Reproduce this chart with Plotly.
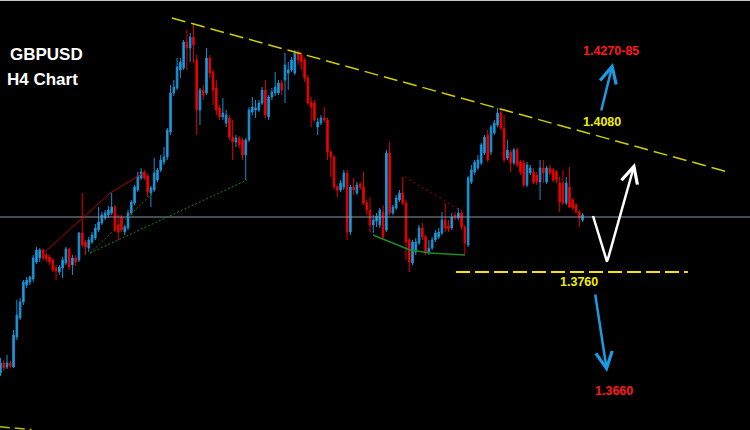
import plotly.graph_objects as go

# GBPUSD H4 candles (oldest -> newest)
open_ = [1.35075, 1.35325, 1.35225, 1.35325, 1.35225, 1.35975, 1.3645, 1.3685, 1.37275, 1.3735,
         1.37425, 1.3785, 1.3795, 1.3815, 1.38025, 1.37975, 1.3790, 1.3770, 1.3760, 1.3770,
         1.37825, 1.38175, 1.37775, 1.3795, 1.3790, 1.38575, 1.3835, 1.3820, 1.3835, 1.3845,
         1.3865, 1.38825, 1.3895, 1.39025, 1.39075, 1.39225, 1.38775, 1.38975, 1.3860, 1.3870,
         1.39075, 1.39325, 1.3965, 1.3995, 1.4010, 1.4000, 1.39575, 1.3965, 1.3990, 1.4015,
         1.4035, 1.40475, 1.4110, 1.42075, 1.4220, 1.4265, 1.4270, 1.4335, 1.4320, 1.43475,
         1.4290, 1.4165, 1.4215, 1.42075, 1.4295, 1.4260, 1.4220, 1.4170, 1.41475, 1.41325,
         1.4145, 1.40975, 1.4085, 1.4095, 1.4090, 1.40525, 1.4090, 1.4160, 1.4165, 1.4165,
         1.41825, 1.4215, 1.41475, 1.41975, 1.42075, 1.42075, 1.42325, 1.4240, 1.42575, 1.4265,
         1.42575, 1.43075, 1.43025, 1.4290, 1.4245, 1.4185, 1.41825, 1.41225, 1.41325, 1.4145,
         1.4140, 1.4060, 1.40475, 1.39725, 1.3965, 1.39725, 1.40075, 1.3860, 1.39725, 1.39575,
         1.3980, 1.39725, 1.39325, 1.3915, 1.38775, 1.38875, 1.38775, 1.3910, 1.3865, 1.40575,
         1.39075, 1.3920, 1.3940, 1.39575, 1.39325, 1.3840, 1.37825, 1.3810, 1.38325, 1.3870,
         1.38475, 1.3810, 1.3820, 1.3840, 1.38475, 1.38575, 1.3890, 1.3875, 1.3870, 1.39025,
         1.3895, 1.39075, 1.38725, 1.38275, 1.3985, 1.4010, 1.4020, 1.40325, 1.40575, 1.41025,
         1.4060, 1.41075, 1.41275, 1.41575, 1.4120, 1.4045, 1.4060, 1.40325, 1.4065, 1.4035,
         1.40325, 1.39775, 1.40075, 1.4010, 1.40025, 1.3985, 1.4020, 1.3985, 1.4020, 1.4015,
         1.4010, 1.39825, 1.39825, 1.39325, 1.39725, 1.3940, 1.39275, 1.3910, 1.3890]
high = [1.3545, 1.3540, 1.35525, 1.35375, 1.3615, 1.3690, 1.3695, 1.3740, 1.37475, 1.3750,
        1.38025, 1.38225, 1.3820, 1.38175, 1.38075, 1.38025, 1.3795, 1.37775, 1.37775, 1.37975,
        1.38225, 1.3820, 1.38025, 1.38025, 1.3860, 1.39575, 1.3840, 1.38475, 1.3860, 1.3880,
        1.39225, 1.3910, 1.3915, 1.3925, 1.39575, 1.39275, 1.39025, 1.39025, 1.38775, 1.3915,
        1.3940, 1.39775, 1.4010, 1.4020, 1.4015, 1.4005, 1.3975, 1.4045, 1.4020, 1.40525,
        1.40725, 1.4120, 1.42275, 1.4240, 1.4295, 1.4295, 1.4340, 1.4365, 1.43575, 1.43825,
        1.43025, 1.4220, 1.42275, 1.4320, 1.43025, 1.4265, 1.4240, 1.41775, 1.4195, 1.4165,
        1.41525, 1.4140, 1.41025, 1.4100, 1.4095, 1.4095, 1.41725, 1.41975, 1.4190, 1.4190,
        1.42225, 1.4240, 1.42025, 1.4220, 1.4260, 1.4240, 1.4240, 1.43075, 1.4285, 1.42975,
        1.4315, 1.4315, 1.4310, 1.4295, 1.42525, 1.41975, 1.4190, 1.4145, 1.41525, 1.41725,
        1.4145, 1.4065, 1.40525, 1.39775, 1.3990, 1.4015, 1.4015, 1.39775, 1.3995, 1.3985,
        1.3985, 1.4010, 1.3940, 1.39475, 1.39025, 1.39075, 1.3920, 1.39275, 1.4065, 1.4085,
        1.39275, 1.39525, 1.3965, 1.39975, 1.3940, 1.3845, 1.3840, 1.3845, 1.38775, 1.38825,
        1.38525, 1.3840, 1.38475, 1.3865, 1.3870, 1.3910, 1.39325, 1.3890, 1.39075, 1.3910,
        1.3920, 1.3915, 1.38775, 1.4000, 1.40275, 1.4040, 1.40525, 1.40825, 1.41025, 1.4115,
        1.41275, 1.4140, 1.4170, 1.4165, 1.41525, 1.4090, 1.4065, 1.4070, 1.4070, 1.4040,
        1.4040, 1.4035, 1.40275, 1.4020, 1.4010, 1.4040, 1.4040, 1.4025, 1.40275, 1.4020,
        1.4015, 1.39975, 1.4015, 1.39975, 1.40225, 1.3945, 1.39325, 1.3915, 1.39075]
low = [1.3500, 1.35125, 1.35175, 1.3520, 1.3520, 1.3590, 1.3640, 1.36775, 1.3720, 1.37275,
       1.3735, 1.3780, 1.3785, 1.3790, 1.3785, 1.37775, 1.3760, 1.3740, 1.37525, 1.3745,
       1.37775, 1.3765, 1.37525, 1.3775, 1.3785, 1.38225, 1.38025, 1.3810, 1.3830, 1.3840,
       1.3860, 1.38775, 1.3890, 1.3895, 1.39025, 1.3860, 1.3840, 1.3860, 1.38525, 1.3865,
       1.39025, 1.39275, 1.3960, 1.3990, 1.3990, 1.39475, 1.39225, 1.3960, 1.3985, 1.4010,
       1.40275, 1.4040, 1.41025, 1.4200, 1.4215, 1.4245, 1.4265, 1.4265, 1.4285, 1.42825,
       1.41025, 1.41275, 1.4190, 1.42025, 1.4245, 1.41775, 1.41525, 1.4140, 1.4140, 1.41225,
       1.4090, 1.4040, 1.40725, 1.4070, 1.4040, 1.3990, 1.4085, 1.41525, 1.4145, 1.4160,
       1.41775, 1.4145, 1.4140, 1.4190, 1.4200, 1.42025, 1.42025, 1.41825, 1.4215, 1.4260,
       1.42525, 1.42775, 1.4265, 1.4235, 1.41775, 1.41225, 1.4135, 1.41025, 1.41275, 1.4135,
       1.4040, 1.39975, 1.3965, 1.39475, 1.3960, 1.3965, 1.3840, 1.38525, 1.39525, 1.39525,
       1.3965, 1.39275, 1.39025, 1.3860, 1.38575, 1.38725, 1.3870, 1.3840, 1.3860, 1.39025,
       1.39025, 1.3915, 1.3935, 1.39275, 1.3790, 1.3760, 1.37775, 1.38025, 1.38275, 1.3840,
       1.38025, 1.38025, 1.3815, 1.3835, 1.38425, 1.38525, 1.3860, 1.3860, 1.3865, 1.3890,
       1.3890, 1.3865, 1.38025, 1.38225, 1.3980, 1.40025, 1.4015, 1.40275, 1.40525, 1.4035,
       1.40525, 1.41025, 1.41225, 1.4115, 1.4035, 1.4040, 1.4010, 1.40275, 1.40225, 1.40025,
       1.39725, 1.39725, 1.40025, 1.3980, 1.39775, 1.3940, 1.39825, 1.3980, 1.40025, 1.3985,
       1.39825, 1.3910, 1.39275, 1.39275, 1.3920, 1.3915, 1.3905, 1.38725, 1.3885]
close = [1.35325, 1.3520, 1.35325, 1.3525, 1.36025, 1.36525, 1.3685, 1.3735, 1.3740, 1.37475,
         1.3795, 1.3815, 1.3815, 1.3795, 1.37925, 1.3785, 1.3765, 1.37625, 1.37725, 1.3790,
         1.38175, 1.37725, 1.3795, 1.3785, 1.38575, 1.38275, 1.38225, 1.3840, 1.38525, 1.3870,
         1.3885, 1.39025, 1.39075, 1.3915, 1.39225, 1.3865, 1.3860, 1.3865, 1.38725, 1.39075,
         1.3935, 1.39725, 1.4000, 1.4010, 1.3995, 1.3960, 1.3970, 1.40075, 1.4015, 1.4040,
         1.40475, 1.4115, 1.42075, 1.42225, 1.42725, 1.4285, 1.4335, 1.4320, 1.43475, 1.43275,
         1.4165, 1.4215, 1.42025, 1.4295, 1.42575, 1.4215, 1.4165, 1.41475, 1.41575, 1.41525,
         1.40975, 1.4085, 1.4095, 1.40775, 1.40525, 1.4090, 1.4165, 1.41725, 1.4170, 1.41825,
         1.4215, 1.41525, 1.41975, 1.4210, 1.42225, 1.42325, 1.4215, 1.42775, 1.4265, 1.4290,
         1.43075, 1.4290, 1.4285, 1.4245, 1.41825, 1.41725, 1.4140, 1.4135, 1.4145, 1.4140,
         1.4060, 1.40475, 1.39725, 1.3965, 1.39825, 1.40075, 1.3860, 1.39725, 1.3965, 1.39775,
         1.39725, 1.39325, 1.3915, 1.38775, 1.3890, 1.3900, 1.3915, 1.38475, 1.40575, 1.39075,
         1.39225, 1.3945, 1.39575, 1.39325, 1.3835, 1.3785, 1.3835, 1.3835, 1.3870, 1.38475,
         1.3810, 1.3820, 1.3840, 1.38575, 1.3860, 1.3890, 1.3870, 1.38675, 1.38975, 1.3895,
         1.39075, 1.38725, 1.38325, 1.3995, 1.4015, 1.4035, 1.4040, 1.40775, 1.40975, 1.4040,
         1.41225, 1.41325, 1.41575, 1.4120, 1.4040, 1.4065, 1.40325, 1.4065, 1.40275, 1.4010,
         1.39775, 1.40275, 1.4020, 1.3985, 1.3985, 1.4020, 1.40075, 1.4020, 1.40075, 1.3990,
         1.3990, 1.3935, 1.39325, 1.39825, 1.39225, 1.3920, 1.3910, 1.3895, 1.39025]

bar_index = list(range(len(close)))

# analysis levels
current_price = 1.38975
support_level = 1.3760
support_span = [139.3, 210.2]
trend_x = [52.4, 222.5]
trend_y = [1.4395, 1.4010]

# pattern lines (bar index, price)
flag_top_x = [13.6, 33.5, 44.2]
flag_top_y = [1.3810, 1.39575, 1.4010]
flag_low_x = [27.4, 46.6]
flag_low_y = [1.38075, 1.39575]
swing_low_x = [27.4, 75.4]
swing_low_y = [1.38075, 1.3990]
wedge_top_x = [123.7, 142.0]
wedge_top_y = [1.39975, 1.39075]
wedge_low_x = [113.9, 125.2, 131.3, 142.0]
wedge_low_y = [1.38525, 1.3815, 1.38075, 1.38025]
old_trend_x = [-0.2, 9.5]
old_trend_y = [1.3373, 1.3366]

# projected path and targets
path_x = [181.2, 185.5, 194.0]
path_y = [1.3900, 1.3785, 1.40325]
bull_arrow = [(183.6, 1.4160), (187.3, 1.42825)]
bear_arrow = [(181.8, 1.37075), (185.5, 1.3510)]
labels = [
    ("1.4270-85", 186.7, 1.43125, "#ff1a1a"),
    ("1.4080", 184.0, 1.4134, "#f2ee00"),
    ("1.3760", 176.9, 1.37338, "#f2ee00"),
    ("1.3660", 187.6, 1.34613, "#ff1a1a"),
]

UP = "#18a5ec"
DOWN = "#ff0000"

fig = go.Figure(go.Candlestick(
    x=bar_index, open=open_, high=high, low=low, close=close,
    increasing=dict(fillcolor=UP, line=dict(color="#1790d2", width=1)),
    decreasing=dict(fillcolor=DOWN, line=dict(color="#e00000", width=1)),
    hoverinfo="skip"))


def add_line(xs, ys, color, width=1, dash="solid"):
    for i in range(len(xs) - 1):
        fig.add_shape(type="line", x0=xs[i], y0=ys[i], x1=xs[i + 1], y1=ys[i + 1],
                      line=dict(color=color, width=width, dash=dash))


# current price line
fig.add_shape(type="line", xref="paper", x0=0, x1=1, y0=current_price, y1=current_price,
              line=dict(color="#8796ab", width=1))
# top frame
fig.add_shape(type="line", xref="paper", yref="paper", x0=0, x1=1, y0=1, y1=1,
              line=dict(color="#c8c8c8", width=2))

add_line(trend_x, trend_y, "#cfcf00", 1.5, "14px,6px")
add_line(support_span, [support_level, support_level], "#f5e600", 2, "14px,5px")
add_line(old_trend_x, old_trend_y, "#bcbc00", 1.5, "10px,5px")
add_line(flag_top_x, flag_top_y, "#b00000", 1)
add_line(flag_low_x, flag_low_y, "#1f7a1f", 1, "2px,2px")
add_line(swing_low_x, swing_low_y, "#1f7a1f", 1, "2px,2px")
add_line(wedge_top_x, wedge_top_y, "#b00000", 1, "2px,3px")
add_line(wedge_low_x, wedge_low_y, "#1f8a1f", 1.5)

# projected move: down to support, then up
add_line(path_x[:2], path_y[:2], "white", 2.5)
arrows = [((path_x[1], path_y[1]), (path_x[2], path_y[2]), "white"),
          (bull_arrow[0], bull_arrow[1], "#1d9be2"),
          (bear_arrow[0], bear_arrow[1], "#1d9be2")]
for tail, head, col in arrows:
    fig.add_annotation(x=head[0], y=head[1], ax=tail[0], ay=tail[1], axref="x", ayref="y",
                       showarrow=True, arrowhead=5, arrowsize=1.3, arrowwidth=2.5,
                       arrowcolor=col, text="")

for txt, xi, yi, col in labels:
    fig.add_annotation(x=xi, y=yi, text="<b>%s</b>" % txt, showarrow=False,
                       font=dict(family="Arial, Liberation Sans", size=12.5, color=col))

fig.add_annotation(xref="paper", yref="paper", x=0.010, y=0.899, xanchor="left",
                   text="<b>GBPUSD</b>", showarrow=False,
                   font=dict(family="Arial, Liberation Sans", size=17, color="white"))
fig.add_annotation(xref="paper", yref="paper", x=0.007, y=0.841, xanchor="left",
                   text="<b>H4 Chart</b>", showarrow=False,
                   font=dict(family="Arial, Liberation Sans", size=17, color="white"))

fig.update_layout(width=750, height=430, margin=dict(l=0, r=0, t=0, b=0),
                  paper_bgcolor="black", plot_bgcolor="black", showlegend=False,
                  hovermode=False)
fig.update_xaxes(range=[-0.15, 229.2], visible=False, rangeslider_visible=False)
fig.update_yaxes(range=[1.3365, 1.4440], visible=False)

# drop the default page margin so the chart fills the window
fig.write_html("out.html", config={"displayModeBar": False},
               post_script="document.body.style.margin='0';")
